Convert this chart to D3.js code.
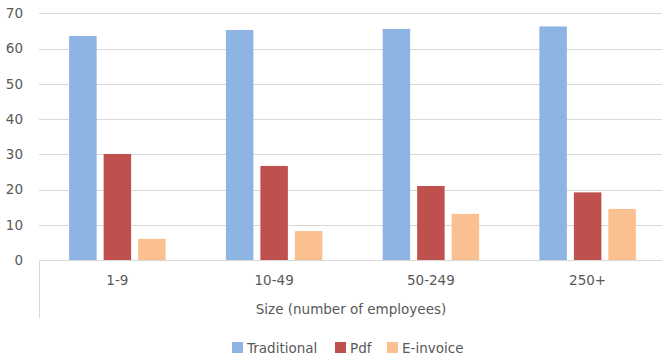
<!DOCTYPE html>
<html>
<head>
<meta charset="utf-8">
<script src="https://cdn.jsdelivr.net/npm/d3@7"></script>
<style>
  html, body { margin: 0; padding: 0; background: #fff; }
  svg { display: block; font-family: "DejaVu Sans", Verdana, sans-serif; }
</style>
</head>
<body>
<svg id="chart" width="662" height="356"></svg>
<script>
// Invoice format by company size (share, %)
const categories = ["1-9", "10-49", "50-249", "250+"];
const seriesNames = ["Traditional", "Pdf", "E-invoice"];
const traditional = [63.6, 65.3, 65.6, 66.3];
const pdf = [30.1, 26.7, 21.0, 19.2];
const eInvoice = [6.0, 8.2, 13.1, 14.5];
const yTicks = [0, 10, 20, 30, 40, 50, 60, 70];
const axisTitle = "Size (number of employees)";

const seriesValues = [traditional, pdf, eInvoice];
const colors = ["#8EB4E3", "#C0504D", "#FAC090"];
const textColor = "#595959";
const gridColor = "#D9D9D9";
const fontSize = "13.5px";

const svg = d3.select("#chart");
const plot = { left: 39, right: 666, top: 13, bottom: 260 };

const y = d3.scaleLinear().domain([0, 70]).range([plot.bottom, plot.top + 0.4]);

const x0 = d3.scaleBand()
  .domain(categories)
  .range([plot.left, plot.right])
  .paddingInner(0.3846)
  .paddingOuter(0.1923);

const x1 = d3.scaleBand()
  .domain(seriesNames)
  .range([0, x0.bandwidth()])
  .paddingInner(0.203)
  .paddingOuter(0);

// gridlines
svg.append("g")
  .selectAll("line")
  .data(yTicks.filter(d => d > 0))
  .join("line")
  .attr("x1", plot.left)
  .attr("x2", 662)
  .attr("y1", d => Math.round(y(d)) + 0.5)
  .attr("y2", d => Math.round(y(d)) + 0.5)
  .attr("stroke", gridColor)
  .attr("stroke-width", 1);

// y-axis labels
const yAxis = d3.axisLeft(y).tickValues(yTicks).tickSize(0).tickPadding(16);
const yg = svg.append("g")
  .attr("transform", `translate(${plot.left},0)`)
  .call(yAxis);
yg.select(".domain").remove();
yg.selectAll("text")
  .attr("fill", textColor)
  .style("font-size", fontSize)
  .style("font-family", "'DejaVu Sans', Verdana, sans-serif");

// bars
const groups = svg.append("g")
  .selectAll("g")
  .data(categories)
  .join("g")
  .attr("transform", d => `translate(${x0(d)},0)`);

groups.selectAll("rect")
  .data((c, i) => seriesNames.map((s, j) => ({ s, v: seriesValues[j][i], j })))
  .join("rect")
  .attr("x", d => x1(d.s))
  .attr("width", x1.bandwidth())
  .attr("y", d => y(d.v))
  .attr("height", d => y(0) - y(d.v))
  .attr("fill", d => colors[d.j]);

// category axis baseline and left border
svg.append("line")
  .attr("x1", plot.left).attr("x2", 662)
  .attr("y1", plot.bottom + 0.5).attr("y2", plot.bottom + 0.5)
  .attr("stroke", gridColor);
svg.append("line")
  .attr("x1", plot.left + 0.5).attr("x2", plot.left + 0.5)
  .attr("y1", plot.bottom).attr("y2", 318)
  .attr("stroke", gridColor);

// category labels
const xAxis = d3.axisBottom(x0).tickSize(0).tickPadding(15);
const xg = svg.append("g")
  .attr("transform", `translate(0,${plot.bottom})`)
  .call(xAxis);
xg.select(".domain").remove();
xg.selectAll("text")
  .attr("fill", textColor)
  .style("font-size", fontSize)
  .style("font-family", "'DejaVu Sans', Verdana, sans-serif");

// axis title row
svg.append("text")
  .attr("x", 351)
  .attr("y", 309)
  .attr("text-anchor", "middle")
  .attr("dominant-baseline", "central")
  .attr("fill", textColor)
  .style("font-size", fontSize)
  .text(axisTitle);

// legend
const legendX = [232, 335, 387];
const legend = svg.append("g")
  .selectAll("g")
  .data(seriesNames)
  .join("g")
  .attr("transform", (d, i) => `translate(${legendX[i]},342)`);
legend.append("rect")
  .attr("width", 11).attr("height", 11)
  .attr("fill", (d, i) => colors[i]);
legend.append("text")
  .attr("x", 15)
  .attr("y", 5.5)
  .attr("dominant-baseline", "central")
  .attr("fill", textColor)
  .style("font-size", fontSize)
  .text(d => d);
</script>
</body>
</html>
